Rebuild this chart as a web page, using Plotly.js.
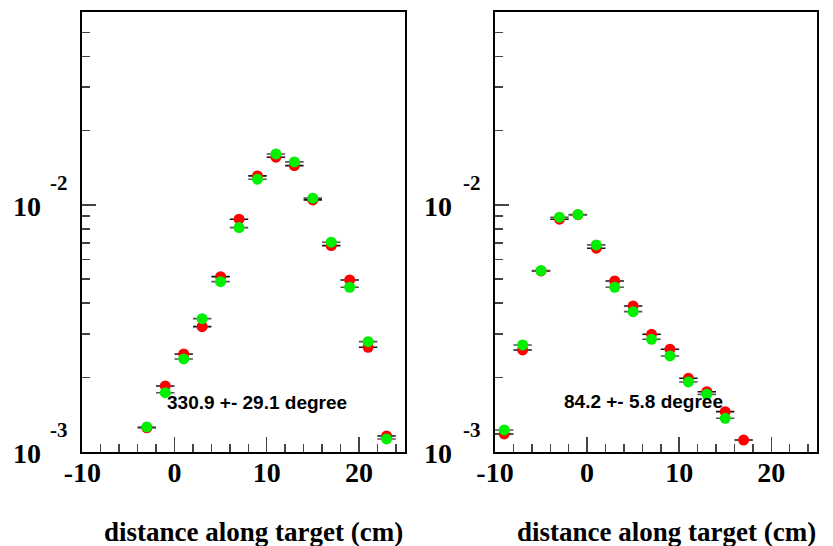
<!DOCTYPE html>
<html><head><meta charset="utf-8">
<script src="https://cdn.plot.ly/plotly-3.0.1.min.js"></script>
<style>html,body{margin:0;padding:0;background:#fff}#chart{width:833px;height:546px}</style>
</head><body><div id="chart"></div>
<script>
// ---- data ----
const positionsLeft = [-3, -1, 1, 3, 5, 7, 9, 11, 13, 15, 17, 19, 21, 23];
const redLeft   = [0.00125, 0.001847, 0.002489, 0.003211, 0.005121, 0.00875, 0.01311, 0.01561, 0.01443, 0.01048, 0.006843, 0.004966, 0.002650, 0.001158];
const greenLeft = [0.00126, 0.001734, 0.002376, 0.003460, 0.004888, 0.008091, 0.01271, 0.01609, 0.01494, 0.01065, 0.007060, 0.004638, 0.002792, 0.001126];

const positionsRightRed   = [-9, -7, -5, -3, -1, 1, 3, 5, 7, 9, 11, 13, 15, 17];
const redRight   = [0.001180, 0.002584, 0.00540, 0.00875, 0.00913, 0.006677, 0.004919, 0.003896, 0.002991, 0.002601, 0.001984, 0.001750, 0.001453, 0.001115];
const positionsRightGreen = [-9, -7, -5, -3, -1, 1, 3, 5, 7, 9, 11, 13, 15];
const greenRight = [0.001225, 0.002707, 0.005417, 0.008915, 0.009135, 0.006885, 0.004638, 0.003694, 0.002855, 0.002443, 0.001917, 0.001708, 0.001366];

const binHalfWidth = 1;

const xTickVals = [-10, 0, 10, 20];
const xTickText = ['-10', '0', '10', '20'];
const yMajorTicks = [0.001, 0.01];
const yTickBase = '10';
const yTickExp = ['-3', '-2'];
const yMinorTicks = [0.002, 0.003, 0.004, 0.005, 0.006, 0.007, 0.008, 0.009, 0.02, 0.03, 0.04, 0.05, 0.06];

const labelLeft = '330.9 +- 29.1 degree';
const labelRight = '84.2 +- 5.8 degree';
const xTitle = 'distance along target (cm)';

// ---- styling ----
const W = 833, H = 546;
const RED = '#ff0000', GREEN = '#00f000';
const serif = 'Liberation Serif, Times New Roman, serif';
const sans = 'Liberation Sans, Arial, sans-serif';

function errTrace(x, y, color, xa, ya) {
  return {x: x, y: y, xaxis: xa, yaxis: ya, type: 'scatter', mode: 'markers',
    marker: {size: 11, opacity: 0}, hoverinfo: 'skip',
    error_x: {type: 'constant', value: binHalfWidth, width: 0, thickness: 1.6, color: color}};
}
function markTrace(x, y, color, xa, ya) {
  return {x: x, y: y, xaxis: xa, yaxis: ya, type: 'scatter', mode: 'markers',
    marker: {size: 11, color: color, line: {width: 0}}};
}

const data = [
  errTrace(positionsLeft, redLeft, '#111', 'x', 'y'),
  errTrace(positionsLeft, greenLeft, '#555', 'x', 'y'),
  errTrace(positionsRightRed, redRight, '#111', 'x2', 'y2'),
  errTrace(positionsRightGreen, greenRight, '#555', 'x2', 'y2'),
  markTrace(positionsLeft, redLeft, RED, 'x', 'y'),
  markTrace(positionsLeft, greenLeft, GREEN, 'x', 'y'),
  markTrace(positionsRightRed, redRight, RED, 'x2', 'y2'),
  markTrace(positionsRightGreen, greenRight, GREEN, 'x2', 'y2')
];

const yDom = [(H - 451.7) / H, (H - 12) / H];
const yTop = Math.log10(0.0605);

function xAxis(dom, anchor) {
  return {domain: dom, anchor: anchor, range: [-10, 25], tickmode: 'array',
    tickvals: xTickVals, ticktext: xTickText.map(function (t) { return '<b>' + t + '</b>'; }),
    ticks: 'inside', ticklen: 15, tickwidth: 1.5,
    tickcolor: '#444', showline: true, linewidth: 2, linecolor: '#000', mirror: true,
    showgrid: false, zeroline: false, ticklabelstandoff: -5,
    tickfont: {family: serif, size: 28, color: '#000', weight: 700},
    minor: {tick0: 0, dtick: 2, ticks: 'inside', ticklen: 8, tickwidth: 1.5, tickcolor: '#444', showgrid: false}};
}
function yAxis(anchor) {
  return {domain: yDom, anchor: anchor, type: 'log', range: [-3, yTop], tickmode: 'array',
    tickvals: yMajorTicks, showticklabels: false, ticks: 'inside', ticklen: 14, tickwidth: 1.5,
    tickcolor: '#444', showline: true, linewidth: 2, linecolor: '#000', mirror: true,
    showgrid: false, zeroline: false,
    minor: {tickmode: 'array', tickvals: yMinorTicks, ticks: 'inside', ticklen: 8, tickwidth: 1.5, tickcolor: '#444', showgrid: false}};
}

const annotations = [];
function yLabels(yref, baseRight, expRight) {
  yMajorTicks.forEach(function (v, i) {
    annotations.push({xref: 'paper', yref: yref, x: baseRight / W, y: Math.log10(v), xanchor: 'right', yanchor: 'middle',
      text: '<b>' + yTickBase + '</b>', showarrow: false, yshift: -2, font: {family: serif, size: 28, color: '#000', weight: 700}});
    annotations.push({xref: 'paper', yref: yref, x: expRight / W, y: Math.log10(v), xanchor: 'right', yanchor: 'middle',
      text: '<b>' + yTickExp[i] + '</b>', showarrow: false, yshift: 22, font: {family: serif, size: 21, color: '#000', weight: 700}});
  });
}
yLabels('y', 43, 70);
yLabels('y2', 454, 483);

const titleFont = {family: serif, size: 27, color: '#000', weight: 700};
annotations.push({xref: 'paper', yref: 'paper', x: 405 / W, y: (H - 532) / H, xanchor: 'right', yanchor: 'middle',
  text: '<b>' + xTitle + '</b>', showarrow: false, font: titleFont});
annotations.push({xref: 'paper', yref: 'paper', x: 818 / W, y: (H - 532) / H, xanchor: 'right', yanchor: 'middle',
  text: '<b>' + xTitle + '</b>', showarrow: false, font: titleFont});
const noteFont = {family: sans, size: 19, color: '#000', weight: 700};
annotations.push({xref: 'paper', yref: 'paper', x: 257 / W, y: (H - 402.5) / H, xanchor: 'center', yanchor: 'middle',
  text: '<b>' + labelLeft + '</b>', showarrow: false, font: noteFont});
annotations.push({xref: 'paper', yref: 'paper', x: 643 / W, y: (H - 401.5) / H, xanchor: 'center', yanchor: 'middle',
  text: '<b>' + labelRight + '</b>', showarrow: false, font: noteFont});

const layout = {
  width: W, height: H, margin: {l: 0, r: 0, t: 0, b: 0},
  paper_bgcolor: '#fff', plot_bgcolor: '#fff', showlegend: false,
  xaxis: xAxis([82.3 / W, 405 / W], 'y'),
  yaxis: yAxis('x'),
  xaxis2: xAxis([495 / W, 817.3 / W], 'y2'),
  yaxis2: yAxis('x2'),
  annotations: annotations
};

Plotly.newPlot('chart', data, layout, {displayModeBar: false, staticPlot: true});
</script>
</body></html>
